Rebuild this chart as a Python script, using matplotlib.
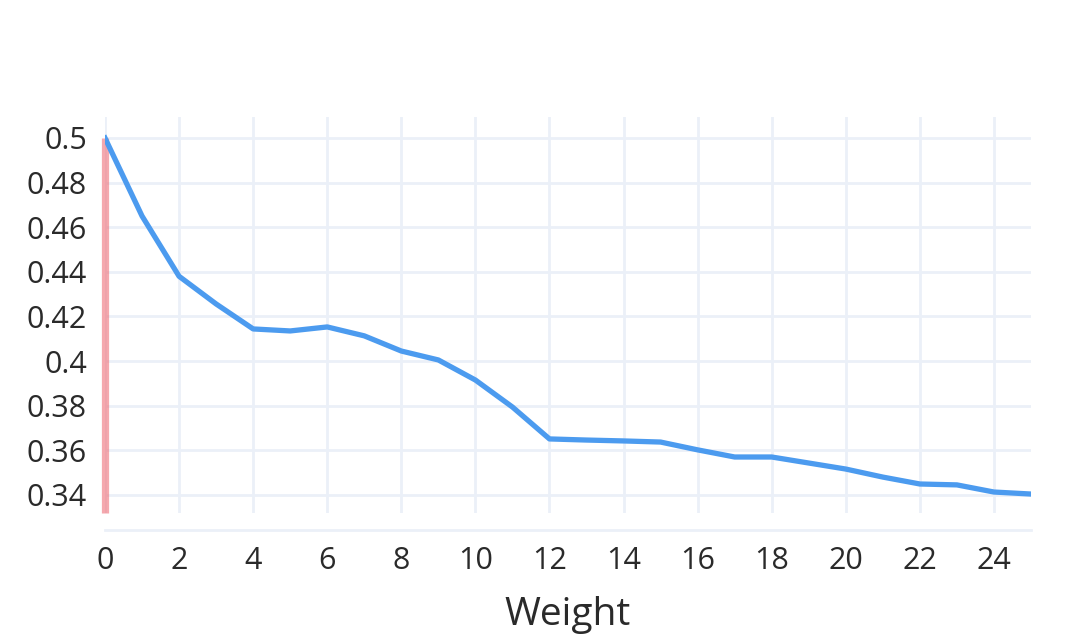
import matplotlib.pyplot as plt
import numpy as np

plt.rcParams['font.family'] = ['Open Sans', 'DejaVu Sans']

# data
weight = list(range(26))
loss = [0.500, 0.465, 0.438, 0.4256, 0.4144, 0.4135, 0.4153, 0.4113, 0.4045, 0.4005,
        0.3915, 0.3794, 0.3651, 0.3646, 0.3642, 0.3637, 0.3602, 0.3570, 0.3570, 0.3543,
        0.3516, 0.3480, 0.3449, 0.3445, 0.3413, 0.3404]
marker_x = 0
y_range = (0.3319, 0.5094)
x_range = (0, 25)

grid_col = '#ebf0f8'
text_col = '#2a2a2a'

fig = plt.figure(figsize=(10.85, 6.41), dpi=100)
ax = fig.add_axes([105 / 1085, 1 - 513 / 641, 926 / 1085, 396 / 641])

ax.plot([marker_x, marker_x], [y_range[0], 0.5], color='#ef6f78', alpha=0.6, lw=5.2,
        solid_capstyle='butt', zorder=2, clip_on=False)
ax.plot(weight, loss, color='#4c9bef', lw=3.8, zorder=3, solid_joinstyle='round')

ax.set_xlim(*x_range)
ax.set_ylim(*y_range)
ax.set_xticks(np.arange(0, 25, 2))
yt = [0.34, 0.36, 0.38, 0.40, 0.42, 0.44, 0.46, 0.48, 0.50]
ax.set_yticks(yt)
ax.set_yticklabels(['0.34', '0.36', '0.38', '0.4', '0.42', '0.44', '0.46', '0.48', '0.5'])
ax.grid(True, color=grid_col, lw=2)
ax.set_axisbelow(True)
for s in ax.spines.values():
    s.set_visible(False)
ax.tick_params(length=0, labelsize=22, colors=text_col)
ax.tick_params(axis='y', pad=13)
ax.tick_params(axis='x', pad=24)

# bottom axis line, a little below the plot area
ax.plot([0, 1], [-17 / 396, -17 / 396], transform=ax.transAxes, color=grid_col,
        lw=2, clip_on=False)

ax.set_xlabel('Weight', fontsize=28, color=text_col, labelpad=14)

fig.savefig('out.png', dpi=100)
